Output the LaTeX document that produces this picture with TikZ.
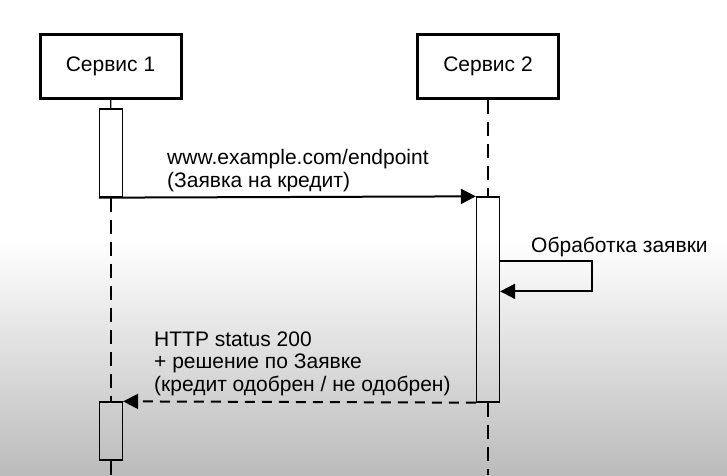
\documentclass[tikz,border=0pt]{standalone}
\usepackage{fontspec}
\setmainfont{Liberation Sans}
\usepackage{xcolor}
\usetikzlibrary{
  arrows.meta,
  calc,
}
\definecolor{lineblack}{HTML}{000000}
\definecolor{bggray}{HTML}{BBBBBB}

\begin{document}
\begin{tikzpicture}[
    x=1pt, y=-1pt,
    service/.style={draw=lineblack, line width=3pt, minimum width=141pt,
                    minimum height=64pt, inner sep=0pt},
    actbox/.style={draw=lineblack, line width=1.3pt, minimum width=23pt,
                   inner sep=0pt},
    lifeline/.style={draw=lineblack, line width=1.4pt,
                     dash pattern=on 14pt off 8pt},
    msg/.style={line width=2pt, -{Triangle[length=15pt, width=15pt]}},
    reply/.style={msg, dash pattern=on 10pt off 7pt},
    label/.style={align=left, inner sep=0pt},
    font=\fontsize{21}{22.5}\selectfont,
  ]
  % background, fixes the page size too
  \fill[white] (0,0) rectangle (727,475);
  \shade[top color=white, bottom color=bggray] (0,240) rectangle (727,475);
  \useasboundingbox (0,0) rectangle (727,475);

  \node[service] (s1) at (110.5,66.5) {Сервис 1};
  \node[service] (s2) at (488,66.5)   {Сервис 2};

  \node[actbox, minimum height=88pt]  (a1) at (111,153) {};
  \node[actbox, minimum height=205pt] (a2) at (488,299.5) {};
  \node[actbox, minimum height=58pt]  (a3) at (111,431) {};

  \coordinate (end1) at (111,475);
  \coordinate (end2) at (488,475);

  \draw[lifeline] (s1) -- (a1);
  \draw[lifeline] (a1) -- (a3);
  \draw[lifeline] (a3) -- (end1);
  \draw[lifeline] (s2) -- (a2);
  \draw[lifeline] (a2) -- (end2);

  \draw[msg] (a1.south west) -- (a2.north west);
  \node[label, anchor=base west] (m1) at (167,187)
    {www.example.com/endpoint\\(Заявка на кредит)};

  % self call
  \draw[msg] ($(a2.north east)+(0,65)$) -- ++(92,0) -- ++(0,30)
    -- ($(a2.north east)+(0,95)$);
  \node[label, anchor=base west] (m2) at (531,252) {Обработка заявки};

  \draw[reply] (a2.south west) -- (a3.north east);
  \node[label, anchor=base west] (m3) at (154,391)
    {HTTP status 200\\+ решение по Заявке\\(кредит одобрен / не одобрен)};
\end{tikzpicture}
\end{document}
